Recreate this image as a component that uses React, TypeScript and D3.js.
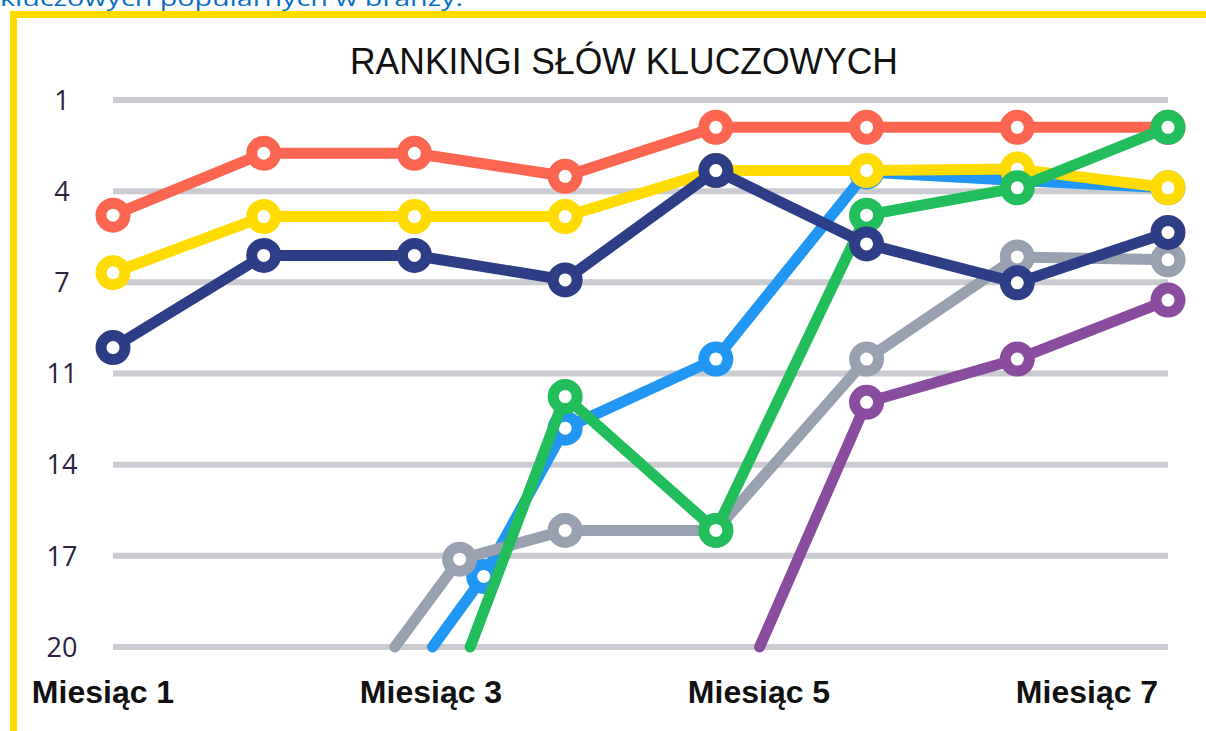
import React, { useEffect, useRef } from "react";
import { select, scaleLinear, scalePoint, line } from "d3";

const W = 1206;
const H = 731;

const headerText = "kluczowych popularnych w branży.";
const title = "RANKINGI SŁÓW KLUCZOWYCH";

// y axis: six equal steps from 1 to 20, labels rounded
const rankLabels = ["1", "4", "7", "11", "14", "17", "20"];
const monthLabels = ["Miesiąc 1", "Miesiąc 2", "Miesiąc 3", "Miesiąc 4", "Miesiąc 5", "Miesiąc 6", "Miesiąc 7"];

// months (1..8, some lines enter between months) and ranks
const redMonths = [1, 2, 3, 4, 5, 6, 7, 8];
const redRanks = [5.0, 2.85, 2.85, 3.65, 1.95, 1.95, 1.95, 1.95];

const yellowMonths = [1, 2, 3, 4, 5, 6, 7, 8];
const yellowRanks = [7.0, 5.05, 5.05, 5.05, 3.45, 3.45, 3.4, 4.05];

const navyMonths = [1, 2, 3, 4, 5, 6, 7, 8];
const navyRanks = [9.6, 6.4, 6.4, 7.25, 3.45, 6.0, 7.35, 5.6];

const blueMonths = [3.12, 3.46, 4, 5, 6, 7, 8];
const blueRanks = [20, 17.55, 12.4, 10.0, 3.5, 3.8, 4.05];

const grayMonths = [2.87, 3.3, 4, 5, 6, 7, 8];
const grayRanks = [20, 16.95, 15.95, 15.95, 10.0, 6.45, 6.55];

const greenMonths = [3.37, 4, 5, 6, 7, 8];
const greenRanks = [20, 11.3, 15.95, 5.0, 4.05, 1.95];

const purpleMonths = [5.29, 6, 7, 8];
const purpleRanks = [20, 11.5, 10.0, 7.95];

// drawing order, bottom to top
const series = [
  { key: "blue", color: "#2196f3", months: blueMonths, ranks: blueRanks },
  { key: "gray", color: "#99a1b0", months: grayMonths, ranks: grayRanks },
  { key: "red", color: "#fc6550", months: redMonths, ranks: redRanks },
  { key: "yellow", color: "#ffdb00", months: yellowMonths, ranks: yellowRanks },
  { key: "green", color: "#22be5b", months: greenMonths, ranks: greenRanks },
  { key: "navy", color: "#2d3e87", months: navyMonths, ranks: navyRanks },
  { key: "purple", color: "#8a4c9f", months: purpleMonths, ranks: purpleRanks },
];

function RankChart() {
  const svgRef = useRef<SVGSVGElement>(null);

  useEffect(() => {
    const svg = select(svgRef.current);
    svg.selectAll("*").remove();

    const x = scaleLinear().domain([1, 8]).range([113, 1168]);
    const y = scaleLinear().domain([1, 20]).range([100, 647]);
    const xLabel = scalePoint().domain(monthLabels).range([103, 1087]);

    svg.append("rect").attr("width", W).attr("height", H).attr("fill", "#fff");

    // header text, cut off at the top like the screenshot
    svg
      .append("text")
      .attr("x", 0)
      .attr("y", 6)
      .attr("fill", "#0b6fc1")
      .attr("font-family", "'Open Sans', sans-serif")
      .attr("font-size", 22)
      .attr("textLength", 463)
      .attr("lengthAdjust", "spacingAndGlyphs")
      .text(headerText);

    // yellow frame
    svg
      .append("rect")
      .attr("x", 13.5)
      .attr("y", 14.5)
      .attr("width", W + 100)
      .attr("height", H + 100)
      .attr("fill", "none")
      .attr("stroke", "#ffdc00")
      .attr("stroke-width", 7);

    svg
      .append("text")
      .attr("x", 624)
      .attr("y", 74)
      .attr("text-anchor", "middle")
      .attr("font-family", "'Liberation Sans', Arial, sans-serif")
      .attr("font-size", 37)
      .attr("fill", "#111")
      .attr("textLength", 548)
      .attr("lengthAdjust", "spacingAndGlyphs")
      .text(title);

    // grid + rank labels
    const step = (20 - 1) / (rankLabels.length - 1);
    const ticks = rankLabels.map((l, i) => ({ label: l, v: 1 + i * step }));

    svg
      .selectAll(".grid")
      .data(ticks)
      .join("line")
      .attr("class", "grid")
      .attr("x1", x.range()[0])
      .attr("x2", x.range()[1])
      .attr("y1", d => y(d.v))
      .attr("y2", d => y(d.v))
      .attr("stroke", "#cbccd1")
      .attr("stroke-width", 6);

    svg
      .selectAll(".ylab")
      .data(ticks)
      .join("text")
      .attr("class", "ylab")
      .attr("x", 62)
      .attr("y", d => y(d.v))
      .attr("dy", "0.36em")
      .attr("text-anchor", "middle")
      .attr("font-family", "'Open Sans', sans-serif")
      .attr("font-weight", 500)
      .attr("font-size", 27)
      .attr("fill", "#2b2140")
      .text(d => d.label);

    // month labels, every other one
    svg
      .selectAll(".xlab")
      .data(monthLabels.filter((_, i) => i % 2 === 0))
      .join("text")
      .attr("class", "xlab")
      .attr("x", d => xLabel(d))
      .attr("y", 703)
      .attr("text-anchor", "middle")
      .attr("font-family", "'Liberation Sans', Arial, sans-serif")
      .attr("font-weight", "bold")
      .attr("font-size", 32)
      .attr("fill", "#111")
      .text(d => d);

    const lineGen = line<[number, number]>()
      .x(d => x(d[0]))
      .y(d => y(d[1]));

    series.forEach(s => {
      const pts: [number, number][] = s.months.map((m, i) => [m, s.ranks[i]]);
      const g = svg.append("g").attr("class", "series-" + s.key);
      g.append("path")
        .attr("d", lineGen(pts))
        .attr("fill", "none")
        .attr("stroke", s.color)
        .attr("stroke-width", 11)
        .attr("stroke-linecap", "round")
        .attr("stroke-linejoin", "round");
      g.selectAll("circle")
        .data(pts.filter(p => p[1] < 20))
        .join("circle")
        .attr("cx", d => x(d[0]))
        .attr("cy", d => y(d[1]))
        .attr("r", 12)
        .attr("fill", "#fff")
        .attr("stroke", s.color)
        .attr("stroke-width", 11);
    });
  }, []);

  return <svg ref={svgRef} width={W} height={H} style={{ display: "block" }} />;
}

export default function App() {
  return (
    <div style={{ position: "absolute", left: 0, top: 0 }}>
      <RankChart />
    </div>
  );
}
